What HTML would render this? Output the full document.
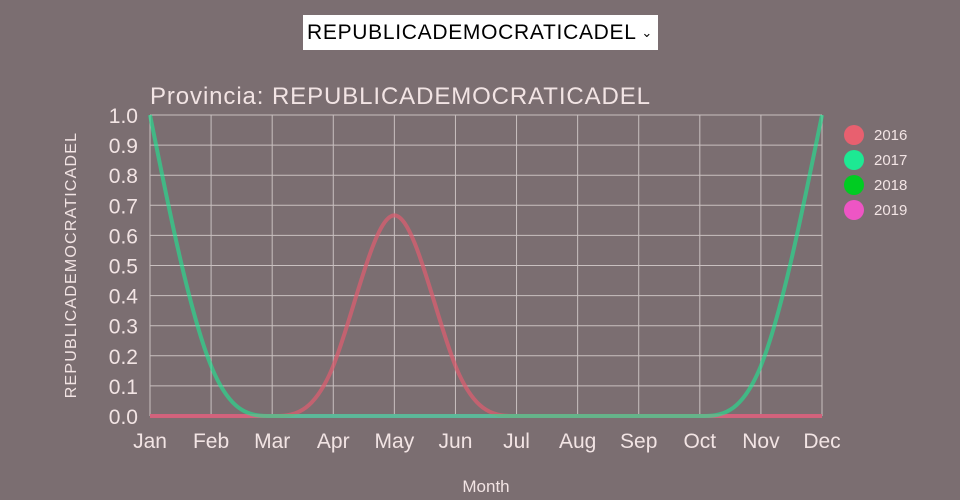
<!DOCTYPE html>
<html><head><meta charset="utf-8"><style>
body{margin:0;background:#7b6e71;width:960px;height:500px;overflow:hidden;font-family:"Liberation Sans","DejaVu Sans",sans-serif}
.sel{position:absolute;left:303px;top:15px;width:355px;height:35px;background:#fff;box-sizing:border-box;font-size:21px;line-height:35px;padding-left:4px;color:#000;letter-spacing:0.7px}
</style></head><body>
<div class="sel">REPUBLICADEMOCRATICADEL<span style="font-size:13px;position:absolute;right:5px;">&#8964;</span></div>
<svg id="s" width="960" height="500" style="position:absolute;left:0;top:0;pointer-events:none" font-family="Liberation Sans, DejaVu Sans, sans-serif">
<g id="grid" stroke="#c9c0c0" stroke-width="1" fill="none"></g>
<g id="lab" fill="#f2e4e4"></g>
<text x="150" y="104" font-size="24" fill="#f2e4e4" letter-spacing="0.9">Provincia: REPUBLICADEMOCRATICADEL</text>
<text x="486" y="492" font-size="17" fill="#f2e4e4" text-anchor="middle">Month</text>
<text transform="translate(76,265) rotate(-90)" font-size="16" fill="#f2e4e4" text-anchor="middle" letter-spacing="1.2">REPUBLICADEMOCRATICADEL</text>
<g id="lines" fill="none" stroke-width="4" stroke-opacity="0.75"></g>
<g font-size="15" fill="#f2e4e4">
<circle cx="854" cy="135" r="10" fill="#e8606f"/><text x="874" y="140">2016</text>
<circle cx="854" cy="160" r="10" fill="#1de993"/><text x="874" y="165">2017</text>
<circle cx="854" cy="185" r="10" fill="#00cc22"/><text x="874" y="190">2018</text>
<circle cx="854" cy="210" r="10" fill="#ee55c4"/><text x="874" y="215">2019</text>
</g>
</svg>
<script>
const X0=150,X1=822,Y0=416,Y1=115,ns="http://www.w3.org/2000/svg";
const xs=i=>X0+i*(X1-X0)/11, ys=v=>Y0-v*(Y0-Y1);
const g=document.getElementById('grid'),l=document.getElementById('lab');
function el(p,t,a,txt){const e=document.createElementNS(ns,t);for(const k in a)e.setAttribute(k,a[k]);if(txt)e.textContent=txt;p.appendChild(e);return e;}
const M=["Jan","Feb","Mar","Apr","May","Jun","Jul","Aug","Sep","Oct","Nov","Dec"];
for(let i=0;i<12;i++){el(g,'line',{x1:xs(i),x2:xs(i),y1:Y1,y2:Y0});el(l,'text',{x:xs(i),y:448,'font-size':21,'text-anchor':'middle'},M[i]);}
for(let j=0;j<=10;j++){const y=ys(j/10);el(g,'line',{x1:X0,x2:X1,y1:y,y2:y});el(l,'text',{x:138,y:y+8,'font-size':21,'text-anchor':'end'},(j/10).toFixed(1));}
function basis(v){const p=v.map((d,i)=>[xs(i),ys(d)]);let s="M"+p[0];s+="L"+[(5*p[0][0]+p[1][0])/6,(5*p[0][1]+p[1][1])/6];
for(let i=2;i<p.length;i++){const a=p[i-2],b=p[i-1],c=p[i];s+="C"+[(2*a[0]+b[0])/3,(2*a[1]+b[1])/3,(a[0]+2*b[0])/3,(a[1]+2*b[1])/3,(a[0]+4*b[0]+c[0])/6,(a[1]+4*b[1]+c[1])/6];}
const a=p[p.length-2],b=p[p.length-1];s+="C"+[(2*a[0]+b[0])/3,(2*a[1]+b[1])/3,(a[0]+2*b[0])/3,(a[1]+2*b[1])/3,b[0],b[1]];return s;}
const L=document.getElementById('lines');
el(L,'path',{d:basis([0,0,0,0,0,0,0,0,0,0,0,0]),stroke:'#00cc22'});
el(L,'path',{d:basis([0,0,0,0,0,0,0,0,0,0,0,0]),stroke:'#ee55c4'});
el(L,'path',{d:basis([0,0,0,0,1,0,0,0,0,0,0,0]),stroke:'#d95f70'});
el(L,'path',{d:basis([1,0,0,0,0,0,0,0,0,0,0,1]),stroke:'#1de993','stroke-opacity':0.6});
</script>
</body></html>
